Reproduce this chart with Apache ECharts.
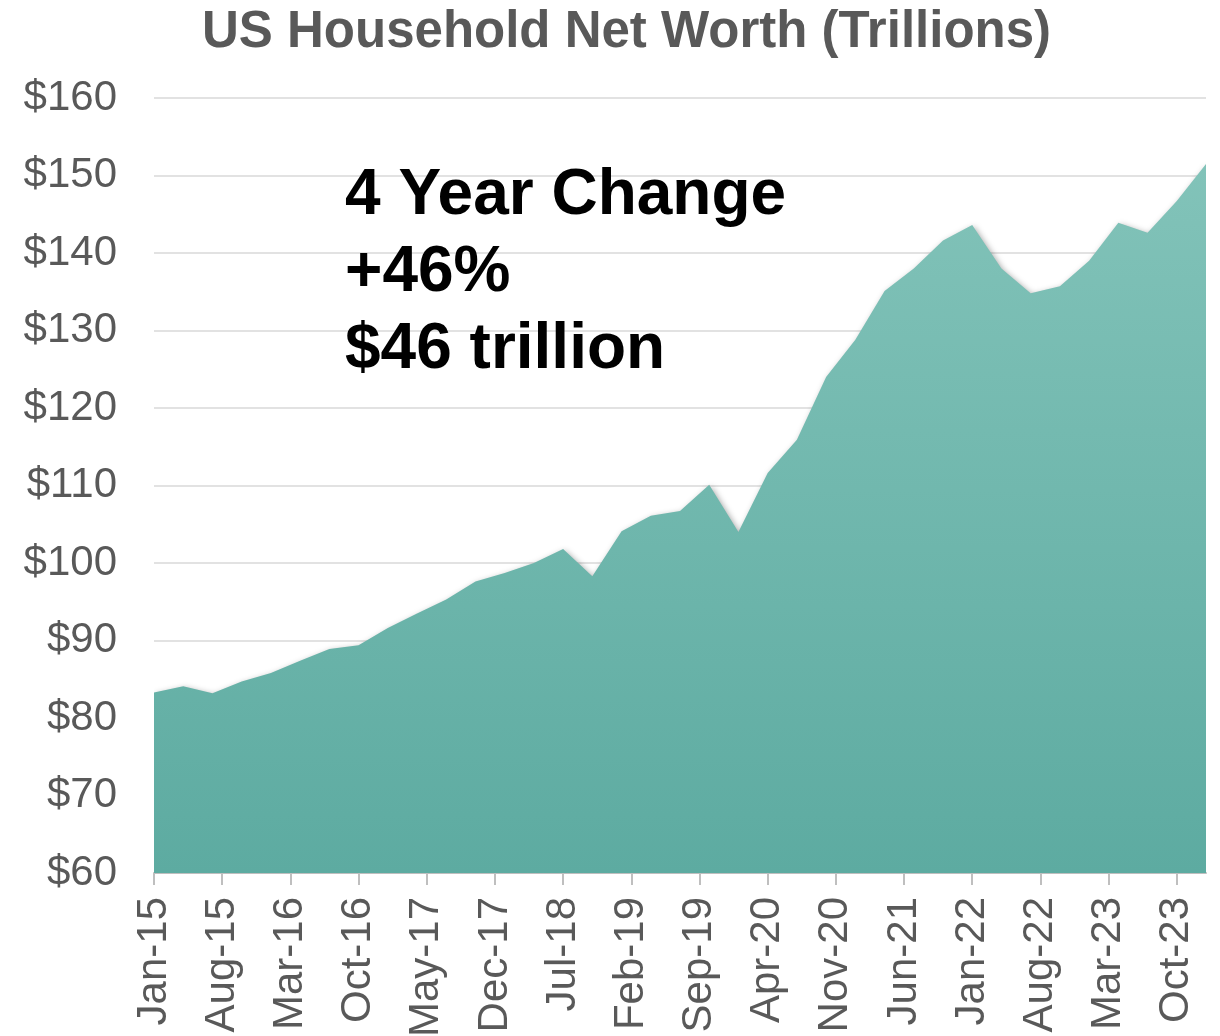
<!DOCTYPE html>
<html lang="en">
<head>
    <meta charset="UTF-8">
    <title>US Household Net Worth</title>
    <script src="https://cdn.jsdelivr.net/npm/echarts@6/dist/echarts.min.js"></script>
    <style>
        html, body {margin: 0; padding: 0; background: #fff;}
        #chart {width: 1220px; height: 1036px;}
    </style>
</head>
<body>
<div id="chart"></div>
<script type="text/javascript">
    // quarterly readings, trillions of dollars
    const quarters = [
        'Jan-15', 'Apr-15', 'Jul-15', 'Oct-15',
        'Jan-16', 'Apr-16', 'Jul-16', 'Oct-16',
        'Jan-17', 'Apr-17', 'Jul-17', 'Oct-17',
        'Jan-18', 'Apr-18', 'Jul-18', 'Oct-18',
        'Jan-19', 'Apr-19', 'Jul-19', 'Oct-19',
        'Jan-20', 'Apr-20', 'Jul-20', 'Oct-20',
        'Jan-21', 'Apr-21', 'Jul-21', 'Oct-21',
        'Jan-22', 'Apr-22', 'Jul-22', 'Oct-22',
        'Jan-23', 'Apr-23', 'Jul-23', 'Oct-23',
        'Jan-24'
    ];
    const netWorth = [
        83.3, 84.1, 83.2, 84.7,
        85.8, 87.4, 88.9, 89.4,
        91.6, 93.5, 95.3, 97.6,
        98.7, 100.0, 101.8, 98.3,
        104.1, 106.1, 106.7, 110.1,
        104.0, 111.6, 115.9, 124.0,
        128.8, 135.1, 138.0, 141.6,
        143.6, 138.0, 134.8, 135.7,
        139.0, 143.9, 142.6, 146.7,
        151.5
    ];
    const monthNames = ['Jan', 'Feb', 'Mar', 'Apr', 'May', 'Jun', 'Jul', 'Aug', 'Sep', 'Oct', 'Nov', 'Dec'];
    const noteLines = ['4 Year Change', '+46%', '$46 trillion'];

    // monthly date axis (Jan-15 .. Jan-24), quarters sit on every third month
    const months = [];
    for (let y = 15; y <= 24; y++) {
        for (let m = 0; m < 12; m++) {
            months.push(monthNames[m] + '-' + y);
            if (y === 24) break;
        }
    }
    const seriesData = months.map(function (m) {
        const i = quarters.indexOf(m);
        return i >= 0 ? netWorth[i] : null;
    });

    const font = '"Liberation Sans", Arial, sans-serif';
    const chart = echarts.init(document.getElementById('chart'));
    chart.setOption({
        animation: false,
        title: {
            text: 'US Household Net Worth (Trillions)',
            left: 197,
            top: 2,
            textStyle: {fontFamily: font, fontSize: 51, fontWeight: 'bold', color: '#595959'}
        },
        grid: {left: 154, right: 14, top: 98, bottom: 163, outerBoundsMode: 'none'},
        xAxis: {
            type: 'category',
            data: months,
            boundaryGap: false,
            axisLine: {lineStyle: {color: '#bfbfbf', width: 2}},
            axisTick: {interval: 6, length: 12, lineStyle: {color: '#bfbfbf', width: 2}},
            axisLabel: {
                interval: 6, rotate: 90, margin: 24,
                fontFamily: font, fontSize: 42, color: '#595959'
            },
            splitLine: {show: false}
        },
        yAxis: {
            type: 'value',
            min: 60,
            max: 160,
            interval: 10,
            axisLine: {show: false},
            axisTick: {show: false},
            axisLabel: {
                formatter: function (v) { return '$' + v; },
                margin: 37, fontFamily: font, fontSize: 42, color: '#595959'
            },
            splitLine: {lineStyle: {color: '#d9d9d9', width: 1.5}}
        },
        graphic: [{
            type: 'text',
            left: 345,
            top: 158,
            z: 100,
            style: {
                text: noteLines.join('\n'),
                fontFamily: font, fontSize: 64, fontWeight: 'bold',
                lineHeight: 77, fill: '#000'
            }
        }],
        series: [{
            type: 'line',
            data: seriesData,
            connectNulls: true,
            showSymbol: false,
            symbol: 'none',
            lineStyle: {width: 0},
            areaStyle: {
                opacity: 1,
                color: new echarts.graphic.LinearGradient(0, 0, 0, 1, [
                    {offset: 0, color: '#82c3b9'},
                    {offset: 1, color: '#5daba1'}
                ]),
                shadowColor: 'rgba(0,0,0,0.35)',
                shadowBlur: 6,
                shadowOffsetX: 2,
                shadowOffsetY: 2
            }
        }]
    });
</script>
</body>
</html>
